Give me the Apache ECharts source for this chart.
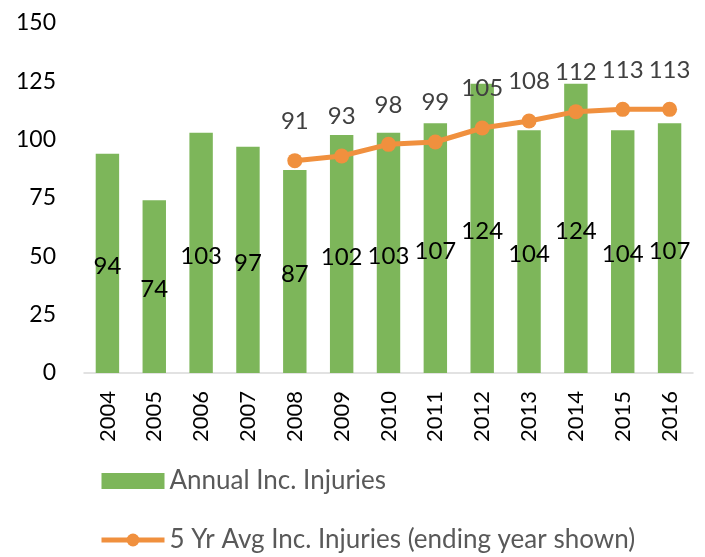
<!DOCTYPE html>
<html>
<head>
<meta charset="utf-8">
<script src="https://cdn.jsdelivr.net/npm/echarts@6/dist/echarts.min.js"></script>
<style>
  html, body { margin: 0; padding: 0; background: #fff; }
  #chart { width: 705px; height: 557px; }
</style>
</head>
<body>
<div id="chart"></div>
<script>
// Years shown on the category axis
const years = ['2004', '2005', '2006', '2007', '2008', '2009', '2010', '2011', '2012', '2013', '2014', '2015', '2016'];
// Injuries recorded each year
const annualInjuries = [94, 74, 103, 97, 87, 102, 103, 107, 124, 104, 124, 104, 107];
// Rolling five-year average, labelled by the last year of the window
const fiveYearAvg = [null, null, null, null, 91, 93, 98, 99, 105, 108, 112, 113, 113];
// Value axis range
const yMin = 0, yMax = 150, yStep = 25;

const FONT = 'Lato, "Open Sans", sans-serif';
const ORANGE = '#f0903e';
const chart = echarts.init(document.getElementById('chart'));

chart.setOption({
  animation: false,
  backgroundColor: '#ffffff',
  textStyle: { fontFamily: FONT },
  grid: { left: 84, right: 12, top: 23, bottom: 184, containLabel: false },
  legend: {
    orient: 'vertical',
    left: 99,
    top: 468,
    height: 89,
    padding: 0,
    itemWidth: 63,
    itemHeight: 16,
    itemGap: 33,
    textStyle: { fontFamily: FONT, fontSize: 26, color: '#595959', lineHeight: 26 },
    data: [
      { name: 'Annual Inc. Injuries', icon: 'rect' },
      { name: '5 Yr Avg Inc. Injuries (ending year shown)', lineStyle: { width: 5, color: ORANGE } }
    ]
  },
  xAxis: {
    type: 'category',
    data: years,
    axisLine: { show: true, lineStyle: { color: '#d9d9d9', width: 1.5 } },
    axisTick: { show: false },
    axisLabel: {
      rotate: 90,
      margin: 18,
      fontFamily: FONT,
      fontSize: 22,
      color: '#000000'
    }
  },
  yAxis: {
    type: 'value',
    min: yMin,
    max: yMax,
    interval: yStep,
    axisLine: { show: false },
    axisTick: { show: false },
    splitLine: { show: false },
    axisLabel: { margin: 28, fontFamily: FONT, fontSize: 23, color: '#000000' }
  },
  series: [
    {
      name: 'Annual Inc. Injuries',
      type: 'bar',
      data: annualInjuries,
      barWidth: '50%',
      itemStyle: { color: '#7db65a' },
      label: {
        show: true,
        position: 'inside',
        offset: [0, 3],
        fontFamily: FONT,
        fontSize: 24,
        color: '#000000'
      },
      z: 1
    },
    {
      name: '5 Yr Avg Inc. Injuries (ending year shown)',
      type: 'line',
      data: fiveYearAvg,
      symbol: 'circle',
      symbolSize: 15,
      lineStyle: { color: ORANGE, width: 5 },
      itemStyle: { color: ORANGE },
      label: {
        show: true,
        position: 'top',
        distance: 20,
        fontFamily: FONT,
        fontSize: 24,
        color: '#404040'
      },
      z: 3
    }
  ]
});
</script>
</body>
</html>
